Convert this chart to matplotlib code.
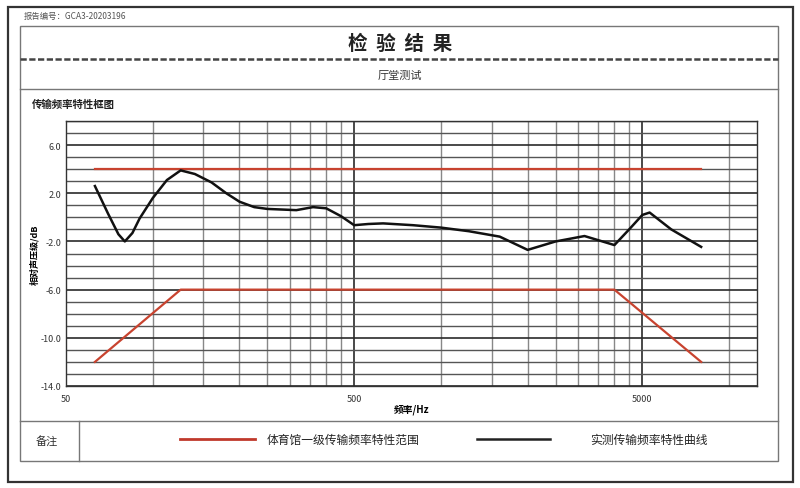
import numpy as np
import matplotlib
matplotlib.use("Agg")
import matplotlib.pyplot as plt
from matplotlib.lines import Line2D
from matplotlib.patches import Rectangle

plt.rcParams['font.family'] = ['Noto Sans CJK SC', 'DejaVu Sans']

# 实测曲线 (频率 Hz, 相对声压级 dB) —— 从图上读取
freq_meas = [63, 70, 76, 80, 85, 90, 100, 112, 125, 140, 160, 180, 200, 225, 250, 315, 360,
             400, 450, 500, 560, 630, 800, 1000, 1250, 1600, 2000, 2500, 3150,
             4000, 4500, 5000, 5300, 6300, 8000]
db_meas = [2.6, 0.3, -1.4, -2.0, -1.3, -0.1, 1.6, 3.1, 3.9, 3.6, 2.9, 2.0, 1.3, 0.85, 0.7, 0.6, 0.85,
           0.75, 0.1, -0.65, -0.55, -0.5, -0.65, -0.85, -1.15, -1.6, -2.7, -2.0, -1.55,
           -2.3, -1.0, 0.2, 0.4, -1.0, -2.45]

# 体育馆一级传输频率特性范围
upper_f = [63, 8000]
upper_db = [4, 4]
lower_f = [63, 125, 4000, 8000]
lower_db = [-12, -6, -6, -12]

x_major = [50, 500, 5000]
x_minor = [100, 150, 200, 250, 300, 350, 400, 450,
           1000, 1500, 2000, 2500, 3000, 3500, 4000, 4500, 10000]
y_major = [-14, -10, -6, -2, 2, 6]

W, H = 800, 489
fig = plt.figure(figsize=(W / 100, H / 100), dpi=100)
fig.patch.set_facecolor("white")


def px(x, y):
    return x / W, 1 - y / H


def hline(x0, x1, y, **kw):
    (a, b), (c, _) = px(x0, y), px(x1, y)
    fig.add_artist(Line2D([a, c], [b, b], transform=fig.transFigure, **kw))


def vline(x, y0, y1, **kw):
    (a, b), (_, d) = px(x, y0), px(x, y1)
    fig.add_artist(Line2D([a, a], [b, d], transform=fig.transFigure, **kw))


def text(x, y, s, **kw):
    a, b = px(x, y)
    fig.text(a, b, s, **kw)


# 外框与表格
fig.add_artist(Rectangle(px(8, 483), 785 / W, 475 / H, transform=fig.transFigure,
                         fill=False, ec="#333333", lw=1.6))
fig.add_artist(Rectangle(px(20, 462), 758 / W, 435 / H, transform=fig.transFigure,
                         fill=False, ec="#777777", lw=1.0))
hline(20, 778, 60, color="#444444", lw=1.8, ls=(0, (2.5, 1)))
hline(20, 778, 90, color="#777777", lw=1.0)
hline(20, 778, 422, color="#777777", lw=1.0)
vline(79, 422, 462, color="#777777", lw=1.0)

text(24, 16, "报告编号：GCA3-20203196", fontsize=6, color="#555555", va="center")
text(400, 44, "检  验  结  果", fontsize=14, fontweight="bold", ha="center", va="center",
     color="#222222")
text(400, 76, "厅堂测试", fontsize=8, ha="center", va="center", color="#333333")
text(32, 105, "传输频率特性框图", fontsize=7.5, fontweight="bold", va="center", color="#222222")
text(47, 441, "备注", fontsize=8, ha="center", va="center", color="#333333")

# 图例
hline(180, 255, 440, color="#c0392b", lw=2)
text(267, 440, "体育馆一级传输频率特性范围", fontsize=8.5, va="center", color="#222222")
hline(477, 550, 440, color="#222222", lw=1.8)
text(590, 440, "实测传输频率特性曲线", fontsize=8.5, va="center", color="#222222")

# 图表区
ax = fig.add_axes([66 / W, 1 - 387 / H, (757 - 66) / W, (387 - 122) / H])
ax.set_xscale("log")
ax.set_xlim(50, 12500)
ax.set_ylim(-14, 8)

ax.set_xticks(x_major)
ax.set_xticklabels([str(v) for v in x_major])
ax.set_xticks(x_minor, minor=True)
ax.xaxis.set_minor_formatter(matplotlib.ticker.NullFormatter())
ax.set_yticks(y_major)
ax.set_yticklabels([f"{v:.1f}" for v in y_major])
ax.set_yticks(np.arange(-14, 9, 1), minor=True)
ax.tick_params(which="both", length=0, labelsize=6.5, labelcolor="#333333")
ax.tick_params(axis="x", pad=6)

ax.grid(which="minor", axis="x", color="#888888", lw=1.0)
ax.grid(which="major", axis="x", color="#2a2a2a", lw=1.2)
ax.grid(which="minor", axis="y", color="#555555", lw=1.0)
ax.grid(which="major", axis="y", color="#2a2a2a", lw=1.2)
ax.set_axisbelow(True)
for s in ax.spines.values():
    s.set_color("#333333")
    s.set_linewidth(1.0)

ax.plot(upper_f, upper_db, color="#c8432f", lw=1.6)
ax.plot(lower_f, lower_db, color="#c8432f", lw=1.6)
ax.plot(freq_meas, db_meas, color="#111111", lw=1.8)

ax.set_xlabel("频率/Hz", fontsize=7, fontweight="bold", labelpad=0)
ax.set_ylabel("相对声压级/dB", fontsize=6.5, fontweight="bold", labelpad=1)

fig.savefig("out.png", dpi=100, facecolor="white")
